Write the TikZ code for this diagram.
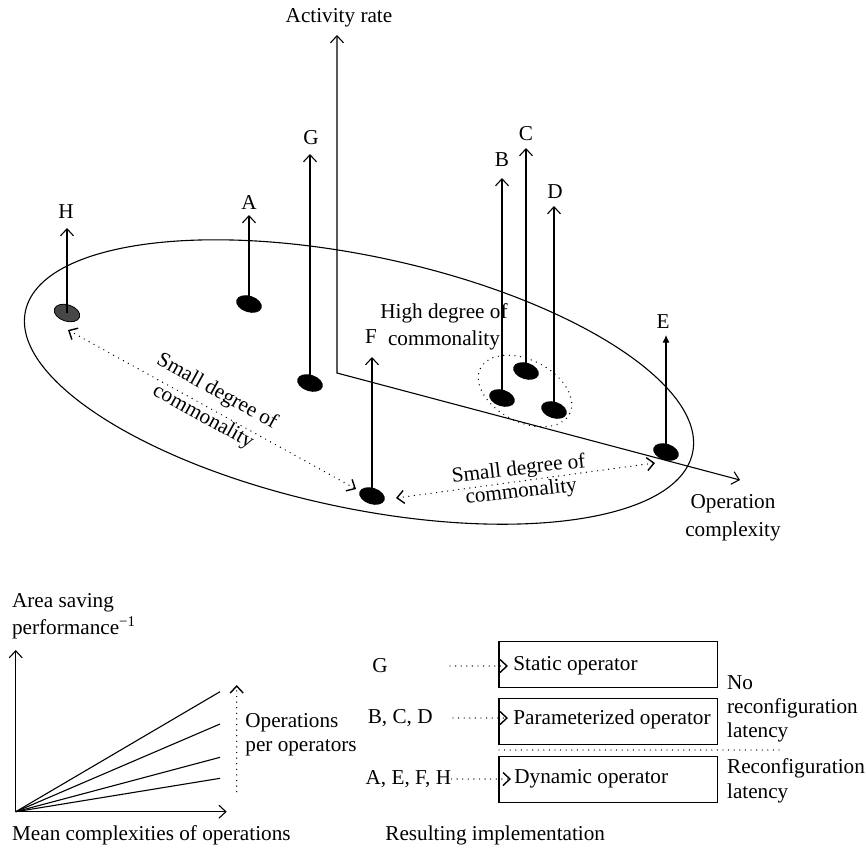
\documentclass[tikz,border=0pt]{standalone}
\usepackage{fontspec}
\setmainfont{Liberation Serif}
\usetikzlibrary{arrows.meta,shapes.geometric}
\newcommand\ftx[1]{\fontsize{10.6}{#1}\selectfont}
\begin{document}
\begin{tikzpicture}[x=0.5pt,y=-0.5pt,
  every node/.style={inner sep=0pt},
  ln/.style={line width=0.55pt},
  dotline/.style={line width=0.7pt, line cap=round, dash pattern=on 0pt off 2.8pt},
  blob/.style={ellipse, fill=black, minimum width=13.2pt, minimum height=8.2pt, rotate=-18},
  opbox/.style={draw, line width=0.65pt, minimum width=109.2pt, minimum height=23pt},
  lab/.style={font=\ftx{12}}
]
\useasboundingbox (0,0) rectangle (866,848);

% large ellipse
\draw[ln, rotate around={-12:(359,382)}] (359,382) ellipse [x radius=341, y radius=126];

% axes
\coordinate (axT) at (337,35);
\coordinate (axB) at (337,373);
\coordinate (axR) at (740,480);
\draw[ln, {Straight Barb[length=3.5pt,width=6.5pt]}-{Straight Barb[length=3.5pt,width=6.5pt]}] (axT) -- (axB) -- (axR);
\node[lab] (act) at (339,18) {Activity rate};
\node[align=center, font=\ftx{14}] (opc) at (733,518) {Operation\\complexity};

% dotted ellipse around B, C, D
\draw[dotline, rotate around={-27:(525,391)}] (525,391) ellipse [x radius=50, y radius=31];

% dots
\node[blob, fill=black!72, draw=black, line width=0.4pt] (dH) at (67,313) {};
\node[blob] (dA) at (249,304) {};
\node[blob] (dG) at (310,383) {};
\node[blob] (dF) at (372,496) {};
\node[blob] (dB) at (502,398) {};
\node[blob] (dC) at (526,371) {};
\node[blob] (dD) at (554,410) {};
\node[blob] (dE) at (666,452) {};

% tips
\coordinate (tH) at (67,228);
\coordinate (tA) at (249,215);
\coordinate (tG) at (310,154);
\coordinate (tF) at (372,357);
\coordinate (tB) at (502,178);
\coordinate (tC) at (526,148);
\coordinate (tD) at (554,206);
\coordinate (tE) at (666,335);

\draw[ln, -{Straight Barb[length=3.5pt,width=6.5pt]}] (dH.center) -- (tH);
\draw[ln, -{Straight Barb[length=3.5pt,width=6.5pt]}] (dA.center) -- (tA);
\draw[ln, -{Straight Barb[length=3.5pt,width=6.5pt]}] (dG.center) -- (tG);
\draw[ln, -{Straight Barb[length=3.5pt,width=6.5pt]}] (dF.center) -- (tF);
\draw[ln, -{Straight Barb[length=3.5pt,width=6.5pt]}] (dB.center) -- (tB);
\draw[ln, -{Straight Barb[length=3.5pt,width=6.5pt]}] (dC.center) -- (tC);
\draw[ln, -{Straight Barb[length=3.5pt,width=6.5pt]}] (dD.center) -- (tD);
\draw[ln, -{Latex[length=3.8pt,width=3.6pt]}] (dE.center) -- (tE);

\node[lab] (lH) at (66,212) {H};
\node[lab] (lA) at (249,202) {A};
\node[lab] (lG) at (311,138) {G};
\node[lab] (lF) at (371,337) {F};
\node[lab] (lB) at (502,160) {B};
\node[lab] (lC) at (526,134) {C};
\node[lab] (lD) at (555,192) {D};
\node[lab] (lE) at (663,322) {E};

\node[align=center, font=\ftx{13.5}] (hdc) at (444,327) {High degree of\\commonality};

% dotted double arrows
\coordinate (hfA) at (68,330);
\coordinate (hfB) at (356,489);
\draw[dotline, {Straight Barb[length=3.5pt,width=6.5pt]}-{Straight Barb[length=3.5pt,width=6.5pt]}] (hfA) -- (hfB);
\node[rotate=-29, align=center, font=\ftx{14.3}] (sdL) at (210,404.5) {Small degree of\\commonality};

\coordinate (feA) at (396,498);
\coordinate (feB) at (655,463);
\draw[dotline, {Straight Barb[length=3.5pt,width=6.5pt]}-{Straight Barb[length=3.5pt,width=6.5pt]}] (feA) -- (feB);
\node[rotate=6.5, align=center, font=\ftx{11.4}] (sdR) at (520,481) {Small degree of\\commonality};

% bottom-left chart
\coordinate (o) at (15.7,811.7);
\coordinate (yt) at (15.7,650);
\coordinate (xt) at (226.7,811.7);
\draw[ln, {Straight Barb[length=3.5pt,width=6.5pt]}-{Straight Barb[length=3.5pt,width=6.5pt]}] (yt) -- (o) -- (xt);
\coordinate (r1) at (220,691.7);
\coordinate (r2) at (220,724);
\coordinate (r3) at (220,757.3);
\coordinate (r4) at (220,778.3);
\draw[ln] (o) -- (r1);
\draw[ln] (o) -- (r2);
\draw[ln] (o) -- (r3);
\draw[ln] (o) -- (r4);
\coordinate (opB) at (236.7,791.7);
\coordinate (opT) at (236.7,685);
\draw[dotline, -{Straight Barb[length=3.5pt,width=6.5pt]}] (opB) -- (opT);
\node[anchor=west, align=left, font=\ftx{11.9}] (opo) at (245,735) {Operations\\per operators};
\node[anchor=west, align=left, font=\ftx{13.5}] (asp) at (11.7,616.5) {Area saving\\performance\textsuperscript{−1}};
\node[anchor=west, lab] (mco) at (11.7,835) {Mean complexities of operations};

% bottom-right implementation
\node[opbox] (b1) at (608.2,664.2) {};
\node[opbox] (b2) at (608.2,721.2) {};
\node[opbox] (b3) at (608.2,779.7) {};
\node[anchor=west, lab] (t1) at (513,666) {Static operator};
\node[anchor=west, lab] (t2) at (513,719) {Parameterized operator};
\node[anchor=west, lab] (t3) at (514,779) {Dynamic operator};

\node[anchor=west, lab] (gG) at (372,666) {G};
\node[anchor=east, lab] (gBCD) at (433,718) {B, C, D};
\node[anchor=east, lab] (gAEFH) at (451.5,779) {A, E, F, H};

\coordinate (a1s) at (450,666);
\coordinate (a1e) at (508,666);
\coordinate (a2s) at (453,718);
\coordinate (a2e) at (508,718);
\coordinate (a3e) at (511,779);
\draw[dotline, -{Straight Barb[length=3.5pt,width=6.5pt]}] (a1s) -- (a1e);
\draw[dotline, -{Straight Barb[length=3.5pt,width=6.5pt]}] (a2s) -- (a2e);
\draw[dotline, -{Straight Barb[length=3.5pt,width=6.5pt]}] (gAEFH.east) -- (a3e);

\coordinate (sepL) at (499,750);
\coordinate (sepR) at (780,750);
\draw[dotline] (sepL) -- (sepR);

\node[anchor=west, align=left, font=\ftx{12}] (nrl) at (726.7,708.5) {No\\reconfiguration\\latency};
\node[anchor=west, align=left, font=\ftx{12.5}] (rl) at (726.7,781) {Reconfiguration\\latency};
\node[anchor=west, lab] (ri) at (385,835) {Resulting implementation};
\end{tikzpicture}
\end{document}
